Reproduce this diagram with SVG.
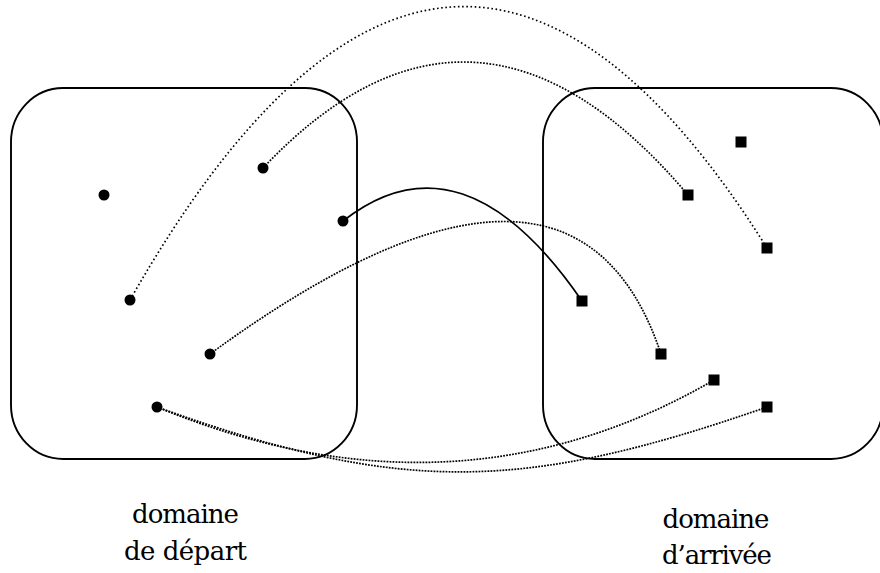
<svg xmlns="http://www.w3.org/2000/svg" width="880" height="573" viewBox="0 0 880 573">
<style>
.box{fill:none;stroke:#000;stroke-width:1.9}
.c{fill:none;stroke:#000;stroke-width:1.7}
.sparse{stroke-dasharray:1.6 2.6}
.dot{stroke-dasharray:1.7 1.5}
.dense{stroke-dasharray:1.8 1.2}
.lbl{font-family:'DejaVu Serif',serif;font-size:26px;fill:#000;text-anchor:middle}
</style>
<rect width="880" height="573" fill="#fff"/>
<g id="domaine-depart">
<rect class="box" x="11" y="88" width="346" height="371" rx="52" ry="54"/>
<text class="lbl" x="185.5" y="523" textLength="107">domaine</text>
<text class="lbl" x="185.5" y="560" textLength="123">de départ</text>
</g>
<g id="domaine-arrivee">
<rect class="box" x="543" y="88" width="340" height="371" rx="52" ry="54"/>
<text class="lbl" x="716" y="528" textLength="107">domaine</text>
<text class="lbl" x="717" y="564" textLength="110">d’arrivée</text>
</g>
<g id="connectors">
<path class="c sparse" d="M130,300 Q448.5,-259.6 767,248"/>
<path class="c dot" d="M263,168 Q475.5,-56.7 688,195"/>
<path class="c" d="M343,221 Q462.5,127 582,301"/>
<path class="c dense" d="M210,354 Q572.7,89 661,354"/>
<path class="c dense" d="M157,407 Q455,530 714,380"/>
<path class="c dense" d="M157,407 C401,495 523,492 767,407"/>
</g>
<g id="source-points" fill="#000">
<circle id="s1" cx="104" cy="195" r="5.5"/>
<circle id="s2" cx="263" cy="168" r="5.5"/>
<circle id="s3" cx="343" cy="221" r="5.5"/>
<circle id="s4" cx="130" cy="300" r="5.5"/>
<circle id="s5" cx="210" cy="354" r="5.5"/>
<circle id="s6" cx="157" cy="407" r="5.5"/>
</g>
<g id="target-points" fill="#000">
<rect id="t1" x="735.5" y="136.5" width="11" height="11"/>
<rect id="t2" x="682.5" y="189.5" width="11" height="11"/>
<rect id="t3" x="761.5" y="242.5" width="11" height="11"/>
<rect id="t4" x="576.5" y="295.5" width="11" height="11"/>
<rect id="t5" x="655.5" y="348.5" width="11" height="11"/>
<rect id="t6" x="708.5" y="374.5" width="11" height="11"/>
<rect id="t7" x="761.5" y="401.5" width="11" height="11"/>
</g>
</svg>
